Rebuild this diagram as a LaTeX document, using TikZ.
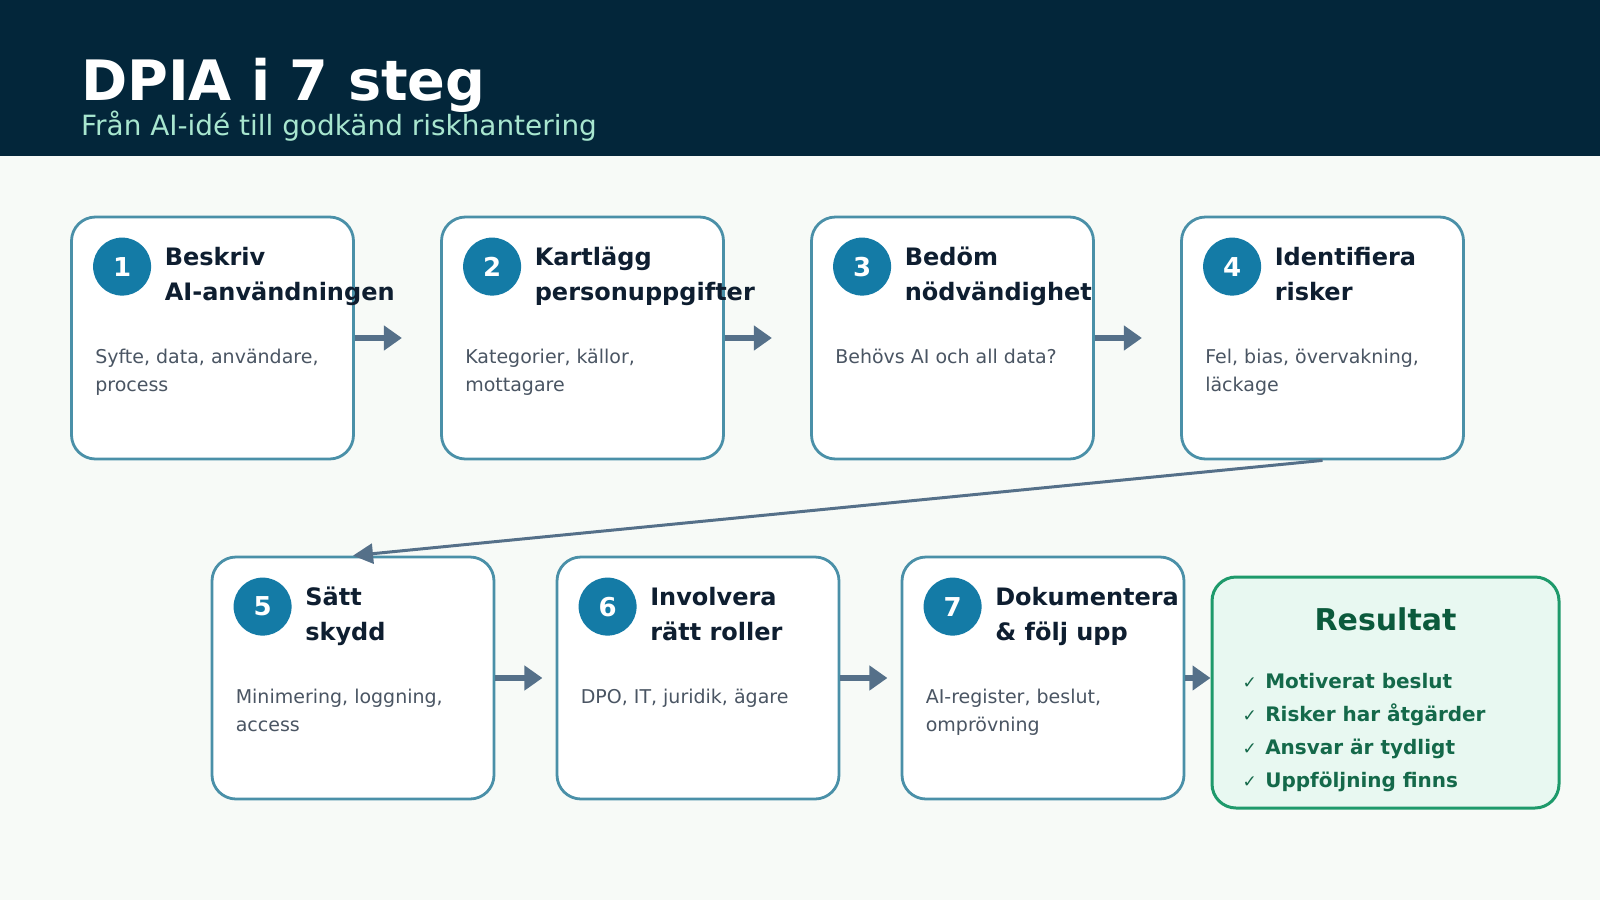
\documentclass[tikz,border=0pt]{standalone}
\usepackage{fontspec}
\setmainfont{DejaVu Sans}
\usetikzlibrary{arrows.meta,positioning}

\definecolor{headbg}{HTML}{03263A}
\definecolor{pagebg}{HTML}{F7FAF7}
\definecolor{subtext}{HTML}{A8E6CF}
\definecolor{boxline}{HTML}{4A90A8}
\definecolor{numfill}{HTML}{147BA6}
\definecolor{titletext}{HTML}{0E1E30}
\definecolor{bodytext}{HTML}{4A5563}
\definecolor{arrowc}{HTML}{557089}
\definecolor{resfill}{HTML}{E8F8F1}
\definecolor{resline}{HTML}{1E9A6B}
\definecolor{restext}{HTML}{0B5A3C}
\definecolor{resitem}{HTML}{14694A}

\newcommand{\okmark}{{\fontsize{17}{17}\selectfont\mdseries ✓}\hspace{8.3pt}}

\begin{document}
\begin{tikzpicture}[x=1pt,y=-1pt,
    stepbox/.style={draw=boxline, line width=2.8pt, fill=white, rounded corners=24pt,
        minimum width=282pt, minimum height=242pt, inner sep=0pt},
    num/.style={circle, fill=numfill, minimum size=58pt, inner sep=0pt, text=white,
        font=\fontsize{26}{26}\selectfont\bfseries},
    head/.style={anchor=base west, align=left, inner sep=0pt, text=titletext,
        font=\fontsize{24}{35}\selectfont\bfseries},
    body/.style={anchor=base west, align=left, inner sep=0pt, text=bodytext,
        font=\fontsize{19}{28}\selectfont},
    flow/.style={-{Triangle[length=18pt,width=24pt]}, line width=6pt, draw=arrowc},
    link/.style={-{Triangle[length=20pt,width=20pt]}, line width=3pt, draw=arrowc},
    resbox/.style={draw=resline, line width=3pt, fill=resfill, rounded corners=24pt,
        minimum width=347pt, minimum height=231pt, inner sep=0pt}]
    \useasboundingbox (0,0) rectangle (1600,900);
    \fill[pagebg] (0,0) rectangle (1600,900);
    \fill[headbg] (0,0) rectangle (1600,156);
    \node[anchor=base west, inner sep=0pt, text=white, font=\fontsize{55.7}{56}\selectfont\bfseries]
        (title) at (81,100) {DPIA i 7 steg};
    \node[anchor=base west, inner sep=0pt, text=subtext, font=\fontsize{27.9}{30}\selectfont]
        (subtitle) at (81,135) {Från AI-idé till godkänd riskhantering};

    % first row
    \node[stepbox] (s1) at (212.5,338) {};
    \node[stepbox] (s2) at (582.5,338) {};
    \node[stepbox] (s3) at (952.5,338) {};
    \node[stepbox] (s4) at (1322.5,338) {};
    % second row
    \node[stepbox] (s5) at (353,678) {};
    \node[stepbox] (s6) at (698,678) {};
    \node[stepbox] (s7) at (1043,678) {};
    \node[resbox] (res) at (1385.5,692.5) {};

    \node[num] (n1) at ([xshift=52pt,yshift=-51pt]s1.north west) {1};
    \node[num] (n2) at ([xshift=52pt,yshift=-51pt]s2.north west) {2};
    \node[num] (n3) at ([xshift=52pt,yshift=-51pt]s3.north west) {3};
    \node[num] (n4) at ([xshift=52pt,yshift=-51pt]s4.north west) {4};
    \node[num] (n5) at ([xshift=52pt,yshift=-51pt]s5.north west) {5};
    \node[num] (n6) at ([xshift=52pt,yshift=-51pt]s6.north west) {6};
    \node[num] (n7) at ([xshift=52pt,yshift=-51pt]s7.north west) {7};

    % base is the last line, so two-line heads sit one line lower
    \node[head] (h1) at ([xshift=94.5pt,yshift=-85pt]s1.north west) {Beskriv\\AI-användningen};
    \node[head] (h2) at ([xshift=94.5pt,yshift=-85pt]s2.north west) {Kartlägg\\personuppgifter};
    \node[head] (h3) at ([xshift=94.5pt,yshift=-85pt]s3.north west) {Bedöm\\nödvändighet};
    \node[head] (h4) at ([xshift=94.5pt,yshift=-85pt]s4.north west) {Identifiera\\risker};
    \node[head] (h5) at ([xshift=94.5pt,yshift=-85pt]s5.north west) {Sätt\\skydd};
    \node[head] (h6) at ([xshift=94.5pt,yshift=-85pt]s6.north west) {Involvera\\rätt roller};
    \node[head] (h7) at ([xshift=94.5pt,yshift=-85pt]s7.north west) {Dokumentera\\\& följ upp};

    \node[body] (d1) at ([xshift=25pt,yshift=-176pt]s1.north west) {Syfte, data, användare,\\process};
    \node[body] (d2) at ([xshift=25pt,yshift=-176pt]s2.north west) {Kategorier, källor,\\mottagare};
    \node[body] (d3) at ([xshift=25pt,yshift=-148pt]s3.north west) {Behövs AI och all data?};
    \node[body] (d4) at ([xshift=25pt,yshift=-176pt]s4.north west) {Fel, bias, övervakning,\\läckage};
    \node[body] (d5) at ([xshift=25pt,yshift=-176pt]s5.north west) {Minimering, loggning,\\access};
    \node[body] (d6) at ([xshift=25pt,yshift=-148pt]s6.north west) {DPO, IT, juridik, ägare};
    \node[body] (d7) at ([xshift=25pt,yshift=-176pt]s7.north west) {AI-register, beslut,\\omprövning};

    \node[anchor=base, inner sep=0pt, text=restext, font=\fontsize{30}{30}\selectfont\bfseries]
        (rhead) at (1385.5,630.5) {Resultat};
    \node[anchor=base west, align=left, inner sep=0pt, text=resitem, font=\fontsize{20}{33}\selectfont\bfseries]
        (rlist) at (1242.5,787) {\okmark Motiverat beslut\\\okmark Risker har åtgärder\\
        \okmark Ansvar är tydligt\\\okmark Uppföljning finns};

    \draw[flow] (s1.east) -- ++(47,0);
    \draw[flow] (s2.east) -- ++(47,0);
    \draw[flow] (s3.east) -- ++(47,0);
    \draw[link] (s4.south) -- (s5.north);
    \draw[flow] (s5.east) -- ++(47,0);
    \draw[flow] (s6.east) -- ++(47,0);
    \draw[flow] (s7.east) -- (s7.east -| res.west);
\end{tikzpicture}
\end{document}
